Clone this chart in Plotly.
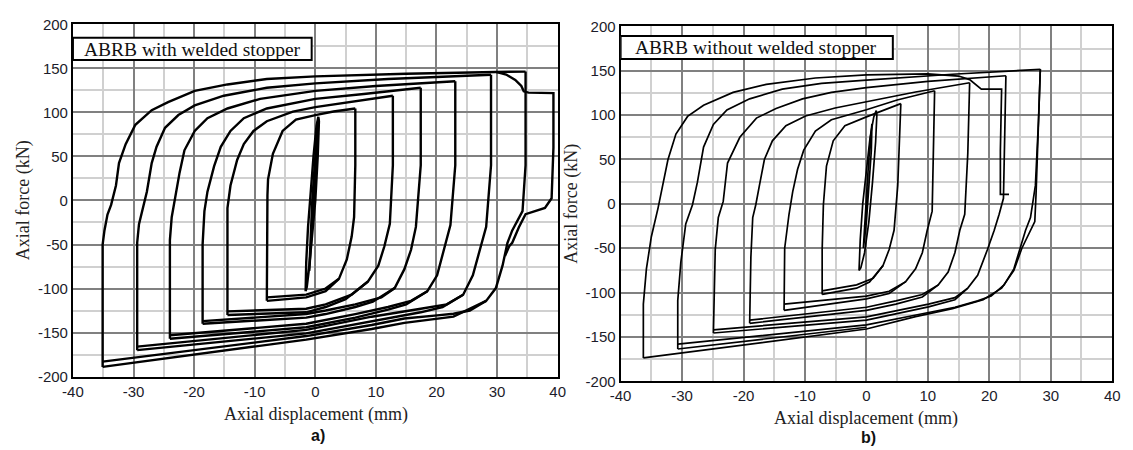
import plotly.graph_objects as go

# ---------------- Panel a) ABRB with welded stopper ----------------
# each loop: ascending branch (compression corner -> tension peak),
# descending branch (tension peak -> compression corner), second compression line
a1_asc_x = [-8.0, -8.0, -7.9, -7.8, -7.0, -5.4, -3.2, 0.0, 3.0, 6.6]
a1_asc_y = [-114, -50, 6, 24, 53, 79, 92, 97, 101, 104.5]
a1_desc_x = [6.6, 6.6, 6.4, 6.0, 5.2, 3.9, 1.7, -1.5, -8.0]
a1_desc_y = [104.5, 40, -19, -41, -67, -89, -100, -107, -110]
a1_comp_x = [3.9, 1.7, -1.5, -8.0]
a1_comp_y = [-89, -103, -110, -114]

a2_asc_x = [-14.5, -14.5, -14.5, -14.0, -12.9, -11.8, -10.2, -8.0, -3.7, 0.0, 6.0, 12.8]
a2_asc_y = [-130, -50, -8.5, 17, 46, 64, 79, 90, 101, 106, 112, 119]
a2_desc_x = [12.8, 12.8, 12.3, 11.4, 10.4, 8.7, 6.0, 1.7, -1.5, -14.5]
a2_desc_y = [119, 40, -26.6, -52, -74, -92, -107, -118, -123, -126]
a2_comp_x = [8.7, 5.0, 1.7, -1.5, -14.5]
a2_comp_y = [-92, -112, -121, -127, -130]

a3_asc_x = [-18.6, -18.6, -18.3, -17.8, -16.7, -15.6, -14.0, -11.8, -8.0, 0.0, 8.0, 17.4]
a3_asc_y = [-140, -50, -12, 10, 39, 61, 79, 93.5, 104.5, 115.4, 121, 128]
a3_desc_x = [17.4, 17.4, 16.6, 15.8, 14.7, 13.1, 10.9, 6.6, 1.7, -1.5, -18.6]
a3_desc_y = [128, 40, -30, -56, -78, -99.5, -110, -118, -125, -129, -137]
a3_comp_x = [13.1, 9.5, 6.6, 1.7, -1.5, -18.6]
a3_comp_y = [-99.5, -115, -121, -129, -133, -140]

a4_asc_x = [-24.0, -24.0, -23.7, -23.2, -22.4, -21.6, -19.9, -17.8, -14.5, -9.1, 0.0, 10.0, 23.1]
a4_asc_y = [-157, -45, -19, 2.4, 31.6, 57, 79, 93.5, 104.5, 115.4, 124.5, 130, 135.5]
a4_desc_x = [23.1, 23.1, 22.3, 21.2, 20.1, 18.5, 15.8, 12.0, 6.6, -1.5, -24.0]
a4_desc_y = [135.5, 40, -28, -56, -85, -103, -114, -121, -129, -140, -153]
a4_comp_x = [18.5, 15.0, 12.0, 6.6, -1.5, -24.0]
a4_comp_y = [-103, -118, -124, -133, -144, -157]

a5_asc_x = [-29.4, -29.4, -29.1, -28.6, -27.8, -27.0, -26.2, -24.8, -22.6, -19.9, -15.1, -8.0, 0.0, 12.0, 29.0]
a5_asc_y = [-170, -48, -27, -12, 10, 42.5, 61, 82.6, 97, 108, 119, 128, 133, 138, 142.8]
a5_desc_x = [29.0, 29.0, 28.2, 27.1, 26.0, 24.4, 21.7, 17.4, 9.3, -1.5, -29.4]
a5_desc_y = [142.8, 40, -30, -56, -85, -107, -118, -123, -132, -147, -166]
a5_comp_x = [24.4, 21.0, 17.4, 9.3, -1.5, -29.4]
a5_comp_y = [-107, -121, -127, -137, -151, -170]

a6_asc_x = [-35.1, -35.1, -34.8, -34.3, -33.7, -32.9, -32.4, -31.3, -29.7, -27.0, -24.3, -19.9, -14.5, -8.0, 0.0, 15.0, 29.8, 34.7]
a6_asc_y = [-189, -50, -34, -16, -5, 17, 42.5, 64, 86, 102.6, 111.7, 124.5, 131.8, 138, 141, 144, 146, 146.4]
a6_desc_x = [34.7, 34.7, 34.2, 33.4, 32.5, 31.7, 30.9, 29.8, 28.2, 25.5, 22.8, 20.1, 14.7, 9.3, -1.5, -35.1]
a6_desc_y = [146.4, 40, -12, -23, -34, -48.5, -74, -99.5, -114, -125, -128.6, -130.5, -134, -141.4, -154, -183]
a6_comp_x = [28.2, 22.8, 14.7, 9.3, -1.5, -35.1]
a6_comp_y = [-114, -132, -139, -146, -158, -189]

a_fail_x = [29.8, 31.5, 33.0, 34.0, 34.4, 35.2, 39.3, 39.3, 39.0, 37.9, 34.7, 33.6, 32.5, 32.0, 31.3]
a_fail_y = [146, 143, 137, 130, 124, 122.5, 122, 60, 2.5, -8.4, -15.5, -30.3, -48, -52, -63]

a_s1_x = [-1.6, -1.5, -1.2, -0.8, -0.3, 0.2, 0.5, 0.6, 0.4, 0.0, -0.5, -1.0, -1.4, -1.6]
a_s1_y = [-103, -70, -30, 10, 50, 85, 95, 90, 50, 0, -40, -75, -98, -103]
a_s2_x = [-1.0, -0.8, -0.5, -0.1, 0.3, 0.5, 0.3, -0.1, -0.5, -0.9, -1.0]
a_s2_y = [-80, -40, 0, 40, 80, 93, 60, 20, -20, -60, -80]

panel_a = [
    (a1_asc_x, a1_asc_y), (a1_desc_x, a1_desc_y), (a1_comp_x, a1_comp_y),
    (a2_asc_x, a2_asc_y), (a2_desc_x, a2_desc_y), (a2_comp_x, a2_comp_y),
    (a3_asc_x, a3_asc_y), (a3_desc_x, a3_desc_y), (a3_comp_x, a3_comp_y),
    (a4_asc_x, a4_asc_y), (a4_desc_x, a4_desc_y), (a4_comp_x, a4_comp_y),
    (a5_asc_x, a5_asc_y), (a5_desc_x, a5_desc_y), (a5_comp_x, a5_comp_y),
    (a6_asc_x, a6_asc_y), (a6_desc_x, a6_desc_y), (a6_comp_x, a6_comp_y),
    (a_fail_x, a_fail_y), (a_s1_x, a_s1_y), (a_s2_x, a_s2_y),
]

# ---------------- Panel b) ABRB without welded stopper ----------------
b1_asc_x = [-7.2, -7.2, -7.0, -6.5, -5.4, -3.5, 0.0, 3.0, 5.6]
b1_asc_y = [-102, -51.5, -1, 42.5, 71, 88, 98, 106, 112.9]
b1_desc_x = [5.6, 5.1, 4.5, 3.7, 2.7, 1.1, -1.6, -7.2]
b1_desc_y = [112.9, 20.8, -29.8, -51.5, -69.6, -84, -91.3, -98]
b1_comp_x = [2.7, 0.5, -1.6, -7.2]
b1_comp_y = [-69.6, -88, -95, -102]

b2_asc_x = [-13.4, -13.3, -12.6, -12.0, -11.2, -10.2, -8.3, -5.7, 0.0, 5.0, 11.1]
b2_asc_y = [-120, -50, -12, 13.5, 39, 60.5, 82, 94.8, 106, 117, 127.4]
b2_desc_x = [11.1, 10.7, 9.9, 9.1, 8.0, 6.4, 3.7, 0.0, -13.4]
b2_desc_y = [127.4, -8.2, -29.8, -55.1, -73.2, -87.6, -98.5, -103.9, -113]
b2_comp_x = [6.4, 3.7, 0.0, -13.4]
b2_comp_y = [-87.6, -101, -107, -120]

b3_asc_x = [-19.0, -18.8, -18.5, -18.0, -17.4, -16.6, -15.3, -13.1, -9.9, -5.1, 0.0, 8.0, 16.8]
b3_asc_y = [-134.6, -60, -15.4, -1, 21, 50, 71, 88, 99, 108, 115, 126, 136.4]
b3_desc_x = [16.8, 16.5, 16.0, 15.2, 14.4, 13.3, 11.7, 9.1, 4.8, 0.0, -19.0]
b3_desc_y = [136.4, 56.9, -11.8, -29.8, -55.1, -76.8, -91.3, -102.1, -109.3, -116.5, -131]
b3_comp_x = [11.7, 9.1, 4.8, 0.0, -19.0]
b3_comp_y = [-91.3, -105, -113, -120, -134.6]

b4_asc_x = [-24.9, -24.8, -24.6, -24.1, -23.3, -22.6, -20.6, -17.9, -14.7, -10.4, -5.7, 0.0, 10.0, 22.7]
b4_asc_y = [-145.5, -100, -51.5, -15.4, 2.7, 46, 75, 96.6, 107.5, 118.3, 125.6, 131, 138, 144.3]
b4_desc_x = [22.7, 22.3, 21.6, 20.8, 19.7, 18.1, 16.5, 14.4, 10.1, 4.8, 0.0, -24.9]
b4_desc_y = [144.3, 6.3, -11.8, -29.8, -51.5, -80.4, -94.9, -105.7, -112.9, -120.2, -127.4, -141.9]
b4_comp_x = [16.5, 14.4, 10.1, 4.8, 0.0, -24.9]
b4_comp_y = [-94.9, -108, -116, -124, -131, -145.5]

b5_asc_x = [-30.7, -30.7, -30.2, -29.4, -28.3, -27.5, -26.5, -24.9, -22.7, -19.0, -13.7, -7.3, 0.0, 14.0, 28.3]
b5_asc_y = [-163.5, -109, -66, -22.6, -1, 24.4, 64, 89.4, 105.7, 118.3, 129.2, 135.7, 139.3, 146, 151.6]
b5_desc_x = [28.3, 28.0, 27.5, 27.2, 26.7, 25.9, 25.1, 24.0, 22.4, 20.3, 18.1, 14.4, 9.1, 3.7, 0.0, -30.7]
b5_desc_y = [151.6, 93, 20.8, 6.3, -15.4, -29.8, -47.9, -73.2, -91.3, -103.9, -109.3, -116.5, -123.8, -131, -136.4, -158]
b5_comp_x = [0.0, -30.7]
b5_comp_y = [-139, -163.5]

b6_desc_x = [28.3, 27.9, 27.6, 27.4, 26.3, 25.3, 24.0, 22.0, 19.0, 14.0, 8.0, 0.0, -36.3]
b6_desc_y = [151.6, 60, 10, -20, -35, -50, -75, -95, -108, -118, -127, -141, -173.6]

b_fail_x = [-36.3, -36.3, -35.8, -35.0, -33.9, -33.1, -32.3, -31.0, -29.1, -26.5, -21.7, -16.3, -8.3, 0.0, 10.0, 15.0, 16.8, 18.7, 22.0, 21.8, 21.8, 23.2]
b_fail_y = [-173.6, -113, -73.2, -37, -4.5, 20.8, 49.7, 78.6, 98.5, 111.1, 125.6, 134.6, 141.8, 145.4, 146.5, 144, 140, 129.2, 129.2, 60, 10.6, 10.6]

b_s1_x = [-1.2, -1.0, -0.6, 0.0, 0.6, 1.2, 1.6, 1.7, 1.5, 1.0, 0.4, -0.3, -0.9, -1.2]
b_s1_y = [-75, -40, 0, 40, 75, 98, 105, 100, 70, 25, -20, -55, -72, -75]
b_s2_x = [-0.5, -0.2, 0.2, 0.6, 0.9, 0.8, 0.4, 0.0, -0.4, -0.5]
b_s2_y = [-50, -10, 30, 70, 90, 60, 20, -20, -45, -50]

panel_b = [
    (b1_asc_x, b1_asc_y), (b1_desc_x, b1_desc_y), (b1_comp_x, b1_comp_y),
    (b2_asc_x, b2_asc_y), (b2_desc_x, b2_desc_y), (b2_comp_x, b2_comp_y),
    (b3_asc_x, b3_asc_y), (b3_desc_x, b3_desc_y), (b3_comp_x, b3_comp_y),
    (b4_asc_x, b4_asc_y), (b4_desc_x, b4_desc_y), (b4_comp_x, b4_comp_y),
    (b5_asc_x, b5_asc_y), (b5_desc_x, b5_desc_y), (b5_comp_x, b5_comp_y),
    (b6_desc_x, b6_desc_y), (b_fail_x, b_fail_y), (b_s1_x, b_s1_y), (b_s2_x, b_s2_y),
]

x_ticks = [-40, -30, -20, -10, 0, 10, 20, 30, 40]
x_tick_text = ["-40", "-30", "-20", "-10", "0", "10", "20", "30", "40"]
y_ticks = [-200, -150, -100, -50, 0, 50, 100, 150, 200]
y_tick_text = ["-200", "-150", "-100", "-50", "0", "50", "100", "150", "200"]
x_title = "Axial displacement (mm)"
y_title = "Axial force (kN)"
label_a = "ABRB with welded stopper"
label_b = "ABRB without welded stopper"

W, H = 1133, 450
fig = go.Figure()
for xs, ys in panel_a:
    fig.add_trace(go.Scatter(x=xs, y=ys, mode="lines", line=dict(color="black", width=2.4),
                             showlegend=False, hoverinfo="skip", xaxis="x", yaxis="y"))
for xs, ys in panel_b:
    fig.add_trace(go.Scatter(x=xs, y=ys, mode="lines", line=dict(color="black", width=1.7),
                             showlegend=False, hoverinfo="skip", xaxis="x2", yaxis="y2"))

tickfont = dict(family="Liberation Sans, Arial, sans-serif", size=15, color="#1c1c2a")

def xax(domain, anchor):
    return dict(domain=domain, range=[-40, 40], tickvals=x_ticks, ticktext=x_tick_text, showgrid=True,
                gridcolor="#808080", gridwidth=1.5, zeroline=False,
                minor=dict(dtick=5, tick0=-40, showgrid=True, gridcolor="#d0d0d0", gridwidth=1.5),
                showline=True, mirror=True, linecolor="black", linewidth=2,
                ticks="", tickfont=tickfont, anchor=anchor, fixedrange=True)

def yax(domain, anchor):
    return dict(domain=domain, range=[-200, 200], tickvals=y_ticks, ticktext=y_tick_text, showgrid=True,
                gridcolor="#808080", gridwidth=1.5, zeroline=False,
                minor=dict(dtick=25, tick0=-200, showgrid=True, gridcolor="#d0d0d0", gridwidth=1.5),
                showline=True, mirror=True, linecolor="black", linewidth=2,
                ticks="", tickfont=tickfont, anchor=anchor, fixedrange=True)

fig.update_layout(
    width=W, height=H, autosize=False,
    margin=dict(l=0, r=0, t=0, b=0),
    paper_bgcolor="white", plot_bgcolor="white",
    xaxis=xax([63 / W, 556 / W], "y"),
    yaxis=yax([1 - 382 / H, 1 - 16 / H], "x"),
    xaxis2=xax([620 / W, 1120 / W], "y2"),
    yaxis2=yax([1 - 387 / H, 1 - 18 / H], "x2"),
)

serif = "Liberation Serif, Times New Roman, serif"
ann = []
# (y-title x, y-title y, x-title x, x-title y, panel label y, label)
for cx, ycen, lx, xly, laby, lab in [(13, 199, 310, 421, 443, "a)"), (570, 202, 870, 426, 445, "b)")]:
    ann.append(dict(text=y_title, x=cx / W, y=1 - ycen / H, xref="paper", yref="paper",
                    xanchor="center", yanchor="middle",
                    textangle=-90, showarrow=False, font=dict(family=serif, size=18, color="#222")))
    ann.append(dict(text=x_title, x=lx / W, y=1 - xly / H, xref="paper", yref="paper",
                    xanchor="center", yanchor="middle",
                    showarrow=False, font=dict(family=serif, size=18, color="#222")))
    ann.append(dict(text="<b>" + lab + "</b>", x=(lx + 2) / W, y=1 - laby / H, xref="paper", yref="paper",
                    xanchor="center", yanchor="middle",
                    showarrow=False, font=dict(family="Liberation Sans, Arial, sans-serif", size=16, color="#111")))

ann.append(dict(text=label_a, x=-20.3, y=172, xref="x", yref="y", showarrow=False,
                xanchor="center", yanchor="middle",
                font=dict(family=serif, size=19.5, color="#111")))
ann.append(dict(text=label_b, x=-17.9, y=176, xref="x2", yref="y2", showarrow=False,
                xanchor="center", yanchor="middle",
                font=dict(family=serif, size=19.5, color="#111")))

shapes = [
    dict(type="rect", xref="x", yref="y", x0=-40, x1=-0.6, y0=159.6, y1=184.7,
         line=dict(color="black", width=2), fillcolor="white", layer="above"),
    dict(type="rect", xref="x2", yref="y2", x0=-40, x1=4.3, y0=163.1, y1=189.2,
         line=dict(color="black", width=2), fillcolor="white", layer="above"),
]
fig.update_layout(annotations=ann, shapes=shapes)

fig.write_html("out.html")
